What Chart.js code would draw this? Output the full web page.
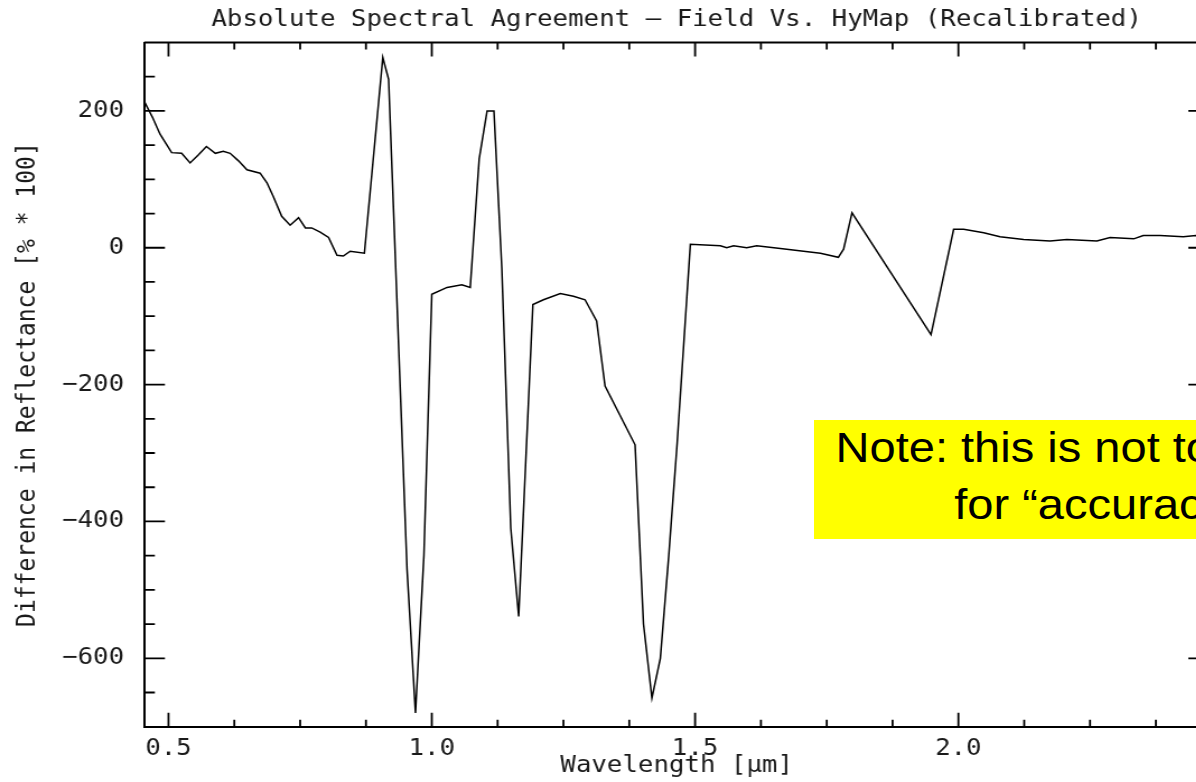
<!DOCTYPE html>
<html>
<head>
<meta charset="utf-8">
<script src="https://cdn.jsdelivr.net/npm/chart.js@4/dist/chart.umd.min.js"></script>
<style>
  html, body { margin: 0; padding: 0; background: #fff; overflow: hidden; width: 1196px; height: 782px; }
  #wrap { position: relative; width: 1110px; height: 782px; transform: scaleX(1.12); transform-origin: 0 0; }
  #grafica { position: absolute; left: 0; top: 0; }
  #nota {
    position: absolute; left: 727px; top: 420px; width: 420px; height: 119px;
    box-sizing: border-box;
    background: #ffff00; color: #000;
    font-family: "Liberation Sans", Arial, sans-serif; font-size: 42px; line-height: 56.6px;
    white-space: nowrap; overflow: hidden;
  }
  #nota .l1 { padding-left: 19px; }
  #nota .l2 { padding-left: 125px; }
</style>
</head>
<body>
<div id="wrap">
  <canvas id="grafica" width="1110" height="782"></canvas>
  <div id="nota"><div class="l1">Note: this is not to be used</div><div class="l2">for “accuracy”</div></div>
</div>
<script>
// longitud de onda (µm) y diferencia de reflectancia (% * 100)
const wavelength = [
  0.454, 0.470, 0.484, 0.506, 0.525, 0.541, 0.557, 0.572, 0.589, 0.604,
  0.617, 0.633, 0.649, 0.674, 0.687, 0.699, 0.715, 0.731, 0.747, 0.760,
  0.772, 0.788, 0.804, 0.820, 0.832, 0.845, 0.872, 0.907, 0.918, 0.953,
  0.969, 0.985, 1.000, 1.029, 1.057, 1.073, 1.090, 1.105, 1.118, 1.133,
  1.150, 1.165, 1.192, 1.212, 1.244, 1.269, 1.291, 1.313, 1.329, 1.386,
  1.402, 1.418, 1.434, 1.450, 1.466, 1.491, 1.548, 1.560, 1.573, 1.598,
  1.617, 1.662, 1.706, 1.738, 1.772, 1.782, 1.798, 1.948, 1.991, 2.010,
  2.048, 2.079, 2.124, 2.174, 2.206, 2.263, 2.288, 2.333, 2.351, 2.383,
  2.427, 2.451, 2.476
];
const difference = [
  214, 190, 166, 139, 138, 124, 136, 148, 138, 141,
  138, 127, 114, 109, 95, 75, 46, 33, 44, 29,
  29, 23, 15, -11, -12, -5, -8, 278, 246, -470,
  -680, -450, -68, -58, -54, -58, 130, 200, 200, -30,
  -410, -539, -83, -76, -67, -71, -76, -107, -202, -288,
  -550, -658, -600, -450, -285, 5, 3, 0, 3, 0,
  3, -1, -5, -8, -14, -2, 51, -127, 27, 27,
  22, 16, 12, 10, 12, 10, 15, 13, 18, 18,
  16, 18, 17
];

const xTickValues = [0.5, 1.0, 1.5, 2.0];
const yTickValues = [-600, -400, -200, 0, 200];

const X_MIN = 0.454, X_MAX = 2.476;
const Y_MIN = -700, Y_MAX = 300;
const X_MINOR = 0.125, X_MAJOR = 0.5;
const Y_MINOR = 50, Y_MAJOR = 200;

const FONT = 'DejaVu Sans Mono';
const INK = '#1a1a1a';

// marco cerrado con marcas hacia dentro en los cuatro lados
const marcoTicks = {
  id: 'marcoTicks',
  afterDatasetsDraw(chart) {
    const { ctx, chartArea: a, scales: { x, y } } = chart;
    ctx.save();
    ctx.strokeStyle = '#000';
    ctx.lineWidth = 2;
    ctx.beginPath();
    ctx.moveTo(a.left, a.top);
    ctx.lineTo(a.right, a.top);
    ctx.lineTo(a.right, a.bottom);
    ctx.stroke();

    ctx.lineWidth = 1.8;
    ctx.beginPath();
    const esMayor = (v, paso) => Math.abs(v / paso - Math.round(v / paso)) < 1e-6;
    for (let v = Math.ceil(X_MIN / X_MINOR) * X_MINOR; v < X_MAX; v += X_MINOR) {
      const px = x.getPixelForValue(v);
      const len = esMayor(v, X_MAJOR) ? 14 : 7;
      ctx.moveTo(px, a.bottom); ctx.lineTo(px, a.bottom - len);
      ctx.moveTo(px, a.top); ctx.lineTo(px, a.top + len);
    }
    for (let v = Y_MIN + Y_MINOR; v < Y_MAX; v += Y_MINOR) {
      const py = y.getPixelForValue(v);
      const len = esMayor(v, Y_MAJOR) ? 18.5 : 9.5;
      ctx.moveTo(a.left, py); ctx.lineTo(a.left + len, py);
      ctx.moveTo(a.right, py); ctx.lineTo(a.right - len, py);
    }
    ctx.stroke();
    ctx.restore();
  }
};

const ctx = document.getElementById('grafica').getContext('2d');
new Chart(ctx, {
  type: 'line',
  data: {
    datasets: [{
      data: wavelength.map((w, i) => ({ x: w, y: difference[i] })),
      borderColor: '#000',
      borderWidth: 1.5,
      pointRadius: 0,
      tension: 0,
      fill: false
    }]
  },
  options: {
    responsive: false,
    animation: false,
    events: [],
    layout: { padding: { left: 0, right: 30.5, top: 0, bottom: 0 } },
    plugins: {
      legend: { display: false },
      tooltip: { enabled: false },
      title: {
        display: true,
        fullSize: false,
        text: 'Absolute Spectral Agreement — Field Vs. HyMap (Recalibrated)',
        color: INK,
        font: { family: FONT, size: 23, weight: 'normal', lineHeight: 1.2 },
        padding: { top: 6.2, bottom: 8.7 }
      }
    },
    scales: {
      x: {
        type: 'linear',
        min: X_MIN,
        max: X_MAX,
        grid: { display: false },
        border: { display: true, color: '#000', width: 2 },
        afterBuildTicks: (s) => { s.ticks = xTickValues.map(v => ({ value: v })); },
        afterFit: (s) => { s.height = 55.3; },
        ticks: {
          color: INK,
          padding: 1,
          maxRotation: 0,
          autoSkip: false,
          font: { family: FONT, size: 23, lineHeight: 1.2 },
          callback: (v) => Number(v).toFixed(1)
        },
        title: {
          display: true,
          text: 'Wavelength [µm]',
          color: INK,
          font: { family: FONT, size: 23, lineHeight: 1.2 },
          padding: { top: 0, bottom: 1.7 }
        }
      },
      y: {
        type: 'linear',
        min: Y_MIN,
        max: Y_MAX,
        grid: { display: false },
        border: { display: true, color: '#000', width: 2 },
        afterBuildTicks: (s) => { s.ticks = yTickValues.map(v => ({ value: v })); },
        afterFit: (s) => { s.width = 128.8; },
        ticks: {
          color: INK,
          padding: 10,
          autoSkip: false,
          font: { family: FONT, size: 23, lineHeight: 1.2 },
          callback: (v) => (v < 0 ? '−' + Math.abs(v) : String(v))
        },
        title: {
          display: true,
          text: 'Difference in Reflectance [% * 100]',
          color: INK,
          font: { family: FONT, size: 23, lineHeight: 1.2 },
          padding: { top: 11.5, bottom: 0 }
        }
      }
    }
  },
  plugins: [marcoTicks]
});
</script>
</body>
</html>
